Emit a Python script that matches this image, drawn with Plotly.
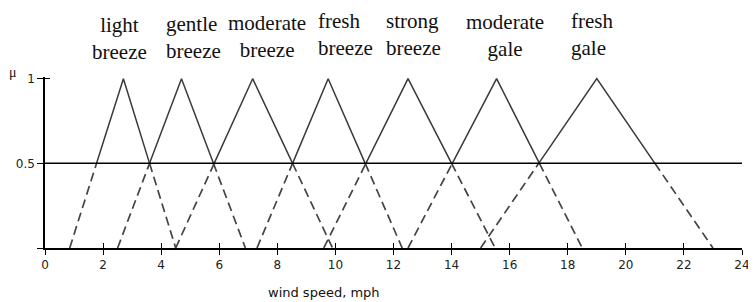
import plotly.graph_objects as go

# ---- data ----
names = ["light<br>breeze", "gentle<br>breeze", "moderate<br>breeze", "fresh<br>breeze",
         "strong<br>breeze", "moderate<br>gale", "fresh<br>gale"]
left_feet = [0.85, 2.5, 4.5, 7.3, 9.6, 12.5, 15.0]
peaks = [2.7, 4.7, 7.15, 9.75, 12.5, 15.55, 19.0]
right_feet = [4.5, 6.9, 9.9, 12.3, 15.5, 18.5, 23.0]
x_ticks = list(range(0, 25, 2))
y_ticks = [0, 0.5, 1]
y_ticktext = ["", "0.5", "1"]
half = 0.5

# label placement (style only)
label_xshift = [-4, -18, 14, -12, -24, 8, -28]
label_anchor = ["center", "left", "center", "left", "left", "center", "left"]
label_yshift = [13, 14, 15, 17, 17, 16, 17]

fig = go.Figure()

tri_color = "#3a3a3a"
for a, b, c in zip(left_feet, peaks, right_feet):
    ml = (a + b) / 2
    mr = (b + c) / 2
    fig.add_trace(go.Scatter(x=[a, ml, None, mr, c], y=[0, half, None, half, 0],
                             mode="lines", line=dict(color="#444", width=1.7, dash="9px,5px"),
                             hoverinfo="skip", showlegend=False))
    fig.add_trace(go.Scatter(x=[ml, b, mr], y=[half, 1, half],
                             mode="lines", line=dict(color=tri_color, width=1.5),
                             hoverinfo="skip", showlegend=False))

# invisible trace for overlay axes
fig.add_trace(go.Scatter(x=[None], y=[None], xaxis="x2", yaxis="y2", showlegend=False, hoverinfo="skip"))

fig.add_hline(y=half, line=dict(color="black", width=1.5))

for name, b, dx, anc, dy in zip(names, peaks, label_xshift, label_anchor, label_yshift):
    fig.add_annotation(x=b, y=1, xref="x", yref="y", text=name, showarrow=False,
                       xanchor=anc, align=anc, yanchor="bottom", xshift=dx, yshift=dy,
                       font=dict(family="Liberation Serif", size=21, color="#111"))

fig.add_annotation(x=9.6, y=0, xref="x", yref="paper", yanchor="middle", yshift=-44,
                   text="wind speed, mph", showarrow=False,
                   font=dict(family="DejaVu Sans", size=13, color="#111"))
fig.add_annotation(x=0, y=1, xref="paper", yref="y", xanchor="center", xshift=-32, yshift=6,
                   text="μ", showarrow=False,
                   font=dict(family="Liberation Serif", size=14, color="#111"))

axis_font = dict(family="DejaVu Sans", size=12, color="#222")
fig.update_layout(
    width=748, height=294,
    margin=dict(l=37, r=14, t=69, b=54, autoexpand=False),
    plot_bgcolor="white", paper_bgcolor="white",
    showlegend=False,
    xaxis=dict(range=[0, 24], tickvals=x_ticks, ticks="outside", ticklen=5, tickwidth=1,
               tickcolor="black", showline=True, linecolor="black", linewidth=1.5,
               showgrid=False, zeroline=False, tickfont=axis_font, automargin=False),
    yaxis=dict(range=[0, 1.01], tickvals=y_ticks, ticktext=y_ticktext, ticks="outside",
               ticklen=6, tickwidth=1, tickcolor="black", showline=True, linecolor="black",
               linewidth=1.5, showgrid=False, zeroline=False, tickfont=axis_font, automargin=False),
    xaxis2=dict(overlaying="x", anchor="y", side="bottom", range=[0, 24], tickvals=x_ticks,
                ticks="inside", ticklen=5, tickwidth=1, tickcolor="black", showticklabels=False,
                showline=False, showgrid=False, zeroline=False, automargin=False),
    yaxis2=dict(overlaying="y", anchor="x", side="left", range=[0, 1.01], tickvals=[1],
                ticks="inside", ticklen=5, tickwidth=1, tickcolor="black", showticklabels=False,
                showline=False, showgrid=False, zeroline=False, automargin=False),
)

fig.write_html("out.html")
